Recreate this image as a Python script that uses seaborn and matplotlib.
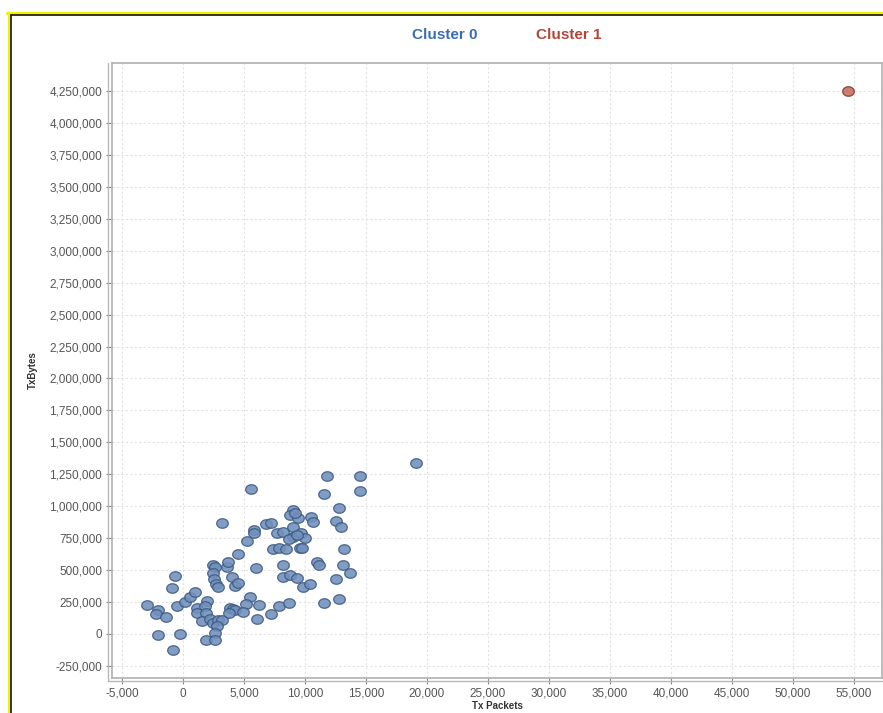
import numpy as np
import pandas as pd
import matplotlib
matplotlib.use('Agg')
import matplotlib.pyplot as plt
import seaborn as sns
from matplotlib.lines import Line2D
from matplotlib.path import Path
from matplotlib.ticker import MultipleLocator, FuncFormatter

# ── DATA ──────────────────────────────────────────────────
cluster_names = ['Cluster 0', 'Cluster 1']

tx_packets_c0 = [5600, 3180, -2980, -2030, -2220, -1420, -660, -930, -2030, -250,
                 -800, -520, 160, 575, 985, 1120, 1175, 1945, 1810, 1890,
                 1535, 2215, 2490, 2900, 3180, 2765, 2630, 1890, 2630, 2490,
                 2630, 2435, 2545, 2710, 2900, 3590, 3720, 4000, 4270, 4460,
                 4460, 5230, 5830, 5780, 6000, 5450, 5150, 3860, 4080, 4270,
                 3800, 4900, 6260, 6050, 7200, 7880, 8645, 6810, 7220, 8180,
                 8230, 8780, 7410, 7880, 8450, 7690, 8180, 9050, 8780, 9000,
                 9050, 8645, 11800, 14470, 11520, 14470, 12750, 10480, 10640, 12560,
                 12970, 9400, 9690, 9960, 9300, 9140, 9600, 9740, 13220, 10970,
                 11110, 13080, 13650, 12560, 9330, 9820, 10420, 11570, 12750, 19100]
tx_bytes_c0 = [1135, 866, 227, 188, 154, 130, 454, 362, -8, -2,
               -125, 219, 253, 292, 331, 206, 162, 261, 219, 162,
               102, 117, 84, 110, 110, 63, 5, -47, -47, 540,
               527, 475, 428, 389, 370, 527, 561, 449, 376, 402,
               626, 728, 814, 788, 514, 292, 232, 206, 193, 188,
               162, 175, 227, 117, 157, 222, 240, 861, 871, 540,
               449, 462, 663, 676, 663, 793, 801, 970, 931, 840,
               762, 741, 1237, 1237, 1093, 1119, 984, 918, 874, 887,
               840, 910, 793, 754, 775, 950, 671, 671, 663, 566,
               540, 540, 480, 428, 441, 370, 389, 240, 274, 1341]
tx_bytes_c0 = [v * 1000 for v in tx_bytes_c0]

tx_packets_c1 = [54500]
tx_bytes_c1 = [4250000]

fill_colors = {'Cluster 0': '#7190bb', 'Cluster 1': '#c66b5f'}
edge_colors = {'Cluster 0': '#3a5882', 'Cluster 1': '#80342b'}
label_colors = {'Cluster 0': '#3c6db0', 'Cluster 1': '#b3463a'}

df = pd.concat([
    pd.DataFrame({'Tx Packets': tx_packets_c0, 'TxBytes': tx_bytes_c0, 'cluster': 'Cluster 0'}),
    pd.DataFrame({'Tx Packets': tx_packets_c1, 'TxBytes': tx_bytes_c1, 'cluster': 'Cluster 1'}),
])

# slightly flattened circle, like the original markers
t = np.linspace(0, 2 * np.pi, 40)
ellipse = Path(np.column_stack([np.cos(t), 0.82 * np.sin(t)]), closed=True)

# ── FIGURE ────────────────────────────────────────────────
sns.set_style('white')
plt.rcParams['font.family'] = ['Liberation Sans', 'DejaVu Sans']

W, H = 883, 713
fig = plt.figure(figsize=(W / 100, H / 100), dpi=100)
ax = fig.add_axes([112 / W, 1 - 678 / H, 770 / W, 615 / H])

for c in cluster_names:
    sub = df[df['cluster'] == c]
    sns.scatterplot(data=sub, x='Tx Packets', y='TxBytes', ax=ax, marker=ellipse,
                    color=fill_colors[c], edgecolor=edge_colors[c],
                    linewidth=0.9, s=70, alpha=0.88, zorder=3, legend=False)

ax.set_xlim(-5830, 57300)
ax.set_ylim(-345000, 4470000)
ax.xaxis.set_major_locator(MultipleLocator(5000))
ax.yaxis.set_major_locator(MultipleLocator(250000))
fmt = FuncFormatter(lambda v, p: f'{v:,.0f}')
ax.xaxis.set_major_formatter(fmt)
ax.yaxis.set_major_formatter(fmt)

ax.grid(True, color='#e2e2e2', linestyle=(0, (2, 2)), linewidth=0.8)
ax.set_axisbelow(True)
for sp in ax.spines.values():
    sp.set_color('#b0b0b0')
    sp.set_linewidth(1.2)

ax.tick_params(direction='out', length=4, width=0.8, color='#888888',
               labelsize=8.5, labelcolor='#555555', pad=3)
ax.tick_params(axis='x', bottom=True)
ax.tick_params(axis='y', left=True)

ax.set_xlabel('Tx Packets', fontsize=7, fontweight='bold', color='#333333', labelpad=1)
ax.set_ylabel('TxBytes', fontsize=7, fontweight='bold', color='#333333', labelpad=8)

# second frame lines left and bottom
fig.add_artist(Line2D([108 / W, 108 / W], [1 - 63 / H, 1 - 681 / H],
                      transform=fig.transFigure, color='#b8b8b8', lw=1))
fig.add_artist(Line2D([108 / W, 882 / W], [1 - 681 / H, 1 - 681 / H],
                      transform=fig.transFigure, color='#b8b8b8', lw=1))

# legend as coloured text
fig.text(445 / W, 1 - 35 / H, 'Cluster 0', color=label_colors['Cluster 0'],
         fontsize=11, fontweight='bold', ha='center', va='center')
fig.text(569 / W, 1 - 35 / H, 'Cluster 1', color=label_colors['Cluster 1'],
         fontsize=11, fontweight='bold', ha='center', va='center')

# yellow / black border at top and left
fig.add_artist(Line2D([7 / W, 1], [1 - 12.5 / H, 1 - 12.5 / H],
                      transform=fig.transFigure, color='#f5f000', lw=2.3))
fig.add_artist(Line2D([8.5 / W, 8.5 / W], [1 - 12.5 / H, 0],
                      transform=fig.transFigure, color='#f5f000', lw=2.3))
fig.add_artist(Line2D([10.5 / W, 1], [1 - 14.5 / H, 1 - 14.5 / H],
                      transform=fig.transFigure, color='#111111', lw=1.2))
fig.add_artist(Line2D([10.5 / W, 10.5 / W], [1 - 14.5 / H, 0],
                      transform=fig.transFigure, color='#111111', lw=1.2))

fig.savefig('out.png', dpi=100, facecolor='white')
